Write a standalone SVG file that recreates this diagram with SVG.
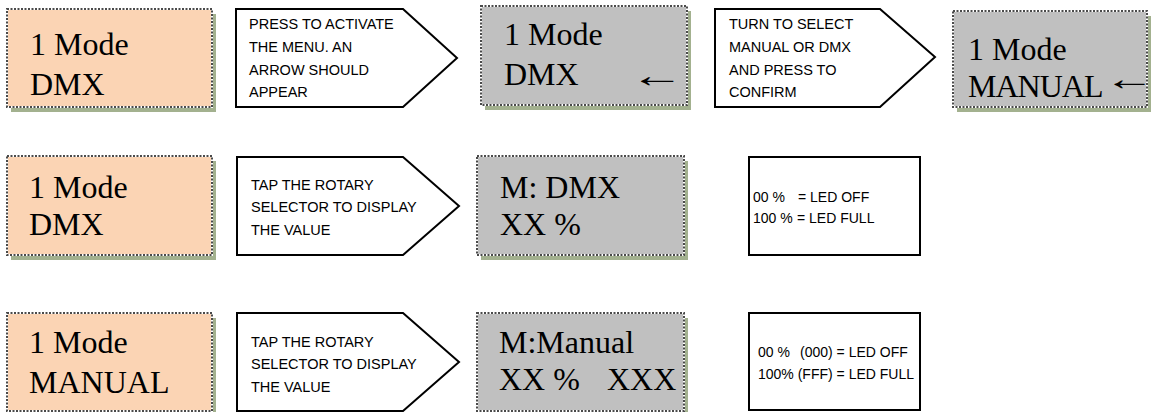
<svg xmlns="http://www.w3.org/2000/svg" width="1156" height="412" viewBox="0 0 1156 412">
<style>
.shadow{fill:#a3b18f}
.peach{fill:#fbd4b4}
.grey{fill:#c0c0c0}
.edge{fill:none;stroke:#ffffff;stroke-width:2}
.dots{fill:none;stroke:#4a4a4a;stroke-width:2;stroke-dasharray:2 1.5}
.callout{fill:#ffffff;stroke:#000000;stroke-width:2;stroke-linejoin:miter}
.note{fill:#ffffff;stroke:#000000;stroke-width:2}
.lcd{font-family:"Liberation Serif","Times New Roman",serif;font-size:32px;fill:#000000}
.arrow{font-family:"Liberation Serif","Times New Roman",serif;font-size:34px;fill:#000000}
.small{font-family:"Liberation Sans",Arial,sans-serif;font-size:14.5px;fill:#000000}
.notetext{font-family:"Liberation Sans",Arial,sans-serif;font-size:14px;fill:#000000}
</style>
<rect width="1156" height="412" fill="#ffffff"/>

<g id="row1-mode-dmx">
<rect class="shadow" x="11" y="14" width="205" height="98"/>
<rect class="peach" x="7" y="9" width="205" height="98"/>
<rect class="edge" x="7" y="9" width="205" height="98"/>
<rect class="dots" x="7" y="9" width="205" height="98"/>
<text class="lcd" x="30" y="55">1 Mode</text>
<text class="lcd" x="30" y="95">DMX</text>
</g>

<g id="row1-press-callout">
<polygon class="callout" points="236,9 403,9 457,58 403,107 236,107"/>
<text class="small" x="249" y="29">PRESS TO ACTIVATE</text>
<text class="small" x="249" y="52">THE MENU. AN</text>
<text class="small" x="249" y="75">ARROW SHOULD</text>
<text class="small" x="249" y="97">APPEAR</text>
</g>

<g id="row1-mode-dmx-arrow">
<rect class="shadow" x="485" y="11" width="206" height="99"/>
<rect class="grey" x="481" y="6" width="206" height="99"/>
<rect class="edge" x="481" y="6" width="206" height="99"/>
<rect class="dots" x="481" y="6" width="206" height="99"/>
<text class="lcd" x="504" y="45">1 Mode</text>
<text class="lcd" x="504" y="85">DMX</text>
<text class="arrow" transform="translate(630 87) scale(1.6 1)">←</text>
</g>

<g id="row1-turn-callout">
<polygon class="callout" points="715,9 880,9 935,57 880,107 715,107"/>
<text class="small" x="729" y="29">TURN TO SELECT</text>
<text class="small" x="729" y="52">MANUAL OR DMX</text>
<text class="small" x="729" y="75">AND PRESS TO</text>
<text class="small" x="729" y="97">CONFIRM</text>
</g>

<g id="row1-mode-manual-arrow">
<rect class="shadow" x="957" y="16" width="194" height="96"/>
<rect class="grey" x="953" y="11" width="194" height="96"/>
<rect class="edge" x="953" y="11" width="194" height="96"/>
<rect class="dots" x="953" y="11" width="194" height="96"/>
<text class="lcd" x="968" y="60">1 Mode</text>
<text class="lcd" x="968" y="97" letter-spacing="-1">MANUAL</text>
<text class="arrow" transform="translate(1104 90) scale(1.5 1)">←</text>
</g>

<g id="row2-mode-dmx">
<rect class="shadow" x="11" y="161" width="205" height="99"/>
<rect class="peach" x="7" y="156" width="205" height="99"/>
<rect class="edge" x="7" y="156" width="205" height="99"/>
<rect class="dots" x="7" y="156" width="205" height="99"/>
<text class="lcd" x="29" y="198">1 Mode</text>
<text class="lcd" x="29" y="235">DMX</text>
</g>

<g id="row2-tap-callout">
<polygon class="callout" points="237,157 403,157 459,206 403,255 237,255"/>
<text class="small" x="251" y="190">TAP THE ROTARY</text>
<text class="small" x="251" y="212">SELECTOR TO DISPLAY</text>
<text class="small" x="251" y="235">THE VALUE</text>
</g>

<g id="row2-m-dmx">
<rect class="shadow" x="481" y="161" width="207" height="99"/>
<rect class="grey" x="477" y="156" width="207" height="99"/>
<rect class="edge" x="477" y="156" width="207" height="99"/>
<rect class="dots" x="477" y="156" width="207" height="99"/>
<text class="lcd" x="500" y="198">M: DMX</text>
<text class="lcd" x="500" y="235">XX %</text>
</g>

<g id="row2-note">
<rect class="note" x="749" y="157" width="171" height="98"/>
<text class="notetext" x="753" y="202">00 %</text>
<text class="notetext" x="798" y="202">= LED OFF</text>
<text class="notetext" x="753" y="223">100 %</text>
<text class="notetext" x="797" y="223">= LED FULL</text>
</g>

<g id="row3-mode-manual">
<rect class="shadow" x="11" y="318" width="205" height="98"/>
<rect class="peach" x="7" y="313" width="205" height="98"/>
<rect class="edge" x="7" y="313" width="205" height="98"/>
<rect class="dots" x="7" y="313" width="205" height="98"/>
<text class="lcd" x="29" y="353">1 Mode</text>
<text class="lcd" x="29" y="393">MANUAL</text>
</g>

<g id="row3-tap-callout">
<polygon class="callout" points="237,313 403,313 459,362 403,411 237,411"/>
<text class="small" x="251" y="347">TAP THE ROTARY</text>
<text class="small" x="251" y="369">SELECTOR TO DISPLAY</text>
<text class="small" x="251" y="392">THE VALUE</text>
</g>

<g id="row3-m-manual">
<rect class="shadow" x="481" y="318" width="207" height="98"/>
<rect class="grey" x="477" y="313" width="207" height="98"/>
<rect class="edge" x="477" y="313" width="207" height="98"/>
<rect class="dots" x="477" y="313" width="207" height="98"/>
<text class="lcd" x="499" y="353">M:Manual</text>
<text class="lcd" x="499" y="390">XX %</text>
<text class="lcd" x="607" y="390">XXX</text>
</g>

<g id="row3-note">
<rect class="note" x="749" y="313" width="171" height="97"/>
<text class="notetext" x="758" y="357">00 %</text>
<text class="notetext" x="800" y="357">(000) = LED OFF</text>
<text class="notetext" x="758" y="379">100% (FFF) = LED FULL</text>
</g>

<g id="connectors"/>
</svg>
